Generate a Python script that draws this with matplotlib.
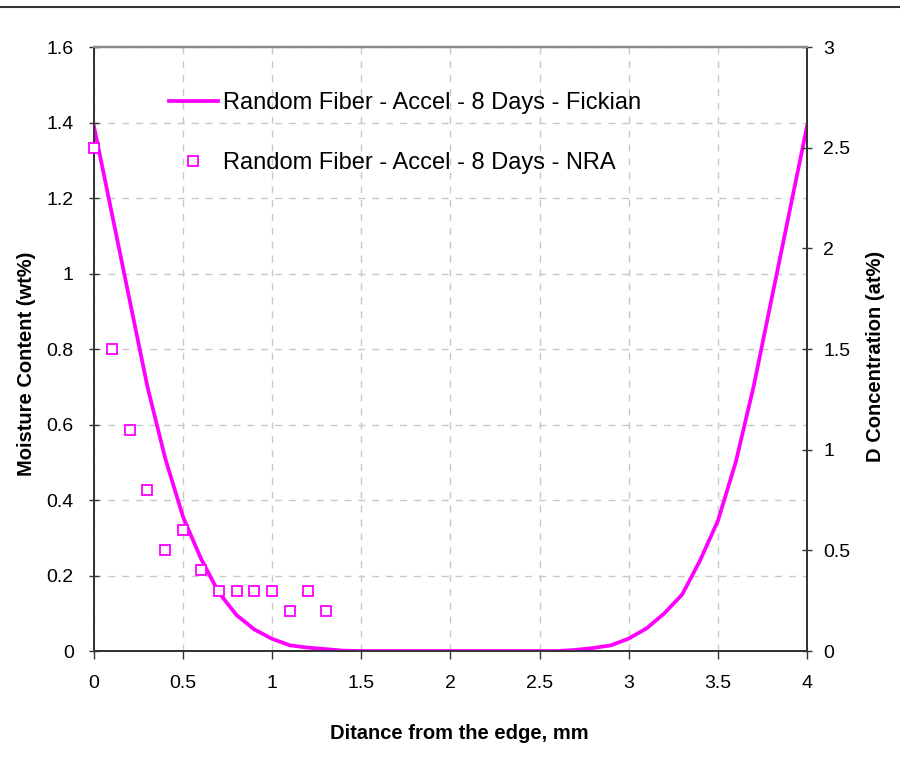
import numpy as np
import matplotlib
matplotlib.use("Agg")
import matplotlib.pyplot as plt
from matplotlib.lines import Line2D
from matplotlib.ticker import FuncFormatter

plt.rcParams['font.family'] = ['Liberation Sans', 'DejaVu Sans']

# Fickian curve, moisture content (wt%) every 0.1 mm
dist_fick = [round(0.1 * i, 1) for i in range(41)]
moist_fick = [1.39, 1.16, 0.93, 0.70, 0.51, 0.355, 0.245, 0.155, 0.095, 0.057,
              0.032, 0.015, 0.009, 0.005, 0.001, 0.0, 0.0, 0.0, 0.0, 0.0,
              0.0, 0.0, 0.0, 0.0, 0.0, 0.0, 0.0, 0.003, 0.008, 0.015,
              0.033, 0.06, 0.10, 0.15, 0.24, 0.345, 0.50, 0.70, 0.93, 1.16, 1.39]

# NRA data, D concentration (at%)
dist_nra = [0.0, 0.1, 0.2, 0.3, 0.4, 0.5, 0.6, 0.7, 0.8, 0.9, 1.0, 1.1, 1.2, 1.3]
d_nra = [2.5, 1.5, 1.1, 0.8, 0.5, 0.6, 0.4, 0.3, 0.3, 0.3, 0.3, 0.2, 0.3, 0.2]

magenta = '#FF00FF'
fmt = FuncFormatter(lambda v, p: '%g' % v)

fig = plt.figure(figsize=(9, 7.57), dpi=100)
ax = fig.add_axes([0.1044, 0.14, 0.7923, 0.7979])
ax2 = ax.twinx()

l1, = ax.plot(dist_fick, moist_fick, color=magenta, lw=2.7,
              label='Random Fiber - Accel - 8 Days - Fickian', zorder=3)
l2, = ax2.plot(dist_nra, d_nra, ls='none', marker='s', ms=7.5, mfc='white',
               mec=magenta, mew=1.3, label='Random Fiber - Accel - 8 Days - NRA',
               clip_on=False, zorder=4)

ax.set_xlim(0, 4)
ax.set_ylim(0, 1.6)
ax2.set_ylim(0, 3)
ax.set_xticks(np.arange(0, 4.01, 0.5))
ax.set_yticks(np.arange(0, 1.61, 0.2))
ax2.set_yticks(np.arange(0, 3.01, 0.5))
ax.xaxis.set_major_formatter(fmt)
ax.yaxis.set_major_formatter(fmt)
ax2.yaxis.set_major_formatter(fmt)

ax.grid(True, color='#c8c8c8', ls=(0, (5, 5)), lw=1)
ax.set_axisbelow(True)

for a in (ax, ax2):
    for s in ('left', 'right', 'bottom'):
        a.spines[s].set_color('#333333')
        a.spines[s].set_linewidth(1.3)
    a.spines['top'].set_color('#888888')
    a.spines['top'].set_linewidth(1.6)

ax.tick_params(axis='y', direction='inout', length=7, width=1, color='#333333',
               labelsize=14, pad=11)
ax2.tick_params(axis='y', direction='inout', length=7, width=1, color='#333333',
                labelsize=14, pad=8)
ax.tick_params(axis='x', direction='out', length=6, width=1, color='#333333',
               labelsize=14, pad=11)

ax.set_xlabel('Ditance from the edge, mm', fontsize=14.5, fontweight='bold')
ax.set_ylabel('Moisture Content (wt%)', fontsize=14.5, fontweight='bold')
ax2.set_ylabel('D Concentration (at%)', fontsize=14.5, fontweight='bold')
ax.xaxis.set_label_coords(0.512, -0.12)
ax.yaxis.set_label_coords(-0.081, 0.475)
ax2.yaxis.set_label_coords(1.083, 0.487)

ax.legend(handles=[l1, l2], loc='upper left', bbox_to_anchor=(0.088, 0.945),
          frameon=False, fontsize=17, handlelength=2.1, handletextpad=0.2,
          labelspacing=1.6, borderpad=0)

fig.add_artist(Line2D([0, 1], [0.9908, 0.9908], color='#333333', lw=1.5,
                      transform=fig.transFigure))

fig.savefig('out.png', dpi=100)
